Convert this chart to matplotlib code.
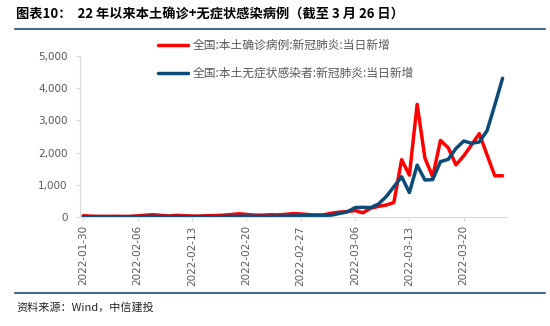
import matplotlib
matplotlib.use("Agg")
import matplotlib.pyplot as plt
import matplotlib.dates as mdates
from matplotlib.ticker import FuncFormatter, FixedLocator
import pandas as pd

plt.rcParams['font.family'] = ['Noto Sans CJK SC', 'DejaVu Sans']

dates = pd.date_range('2022-01-30', '2022-03-25', freq='D')

# 全国本土确诊病例, 当日新增
confirmed = [40, 25,
             20, 20, 22, 18, 20, 35, 55, 70, 50, 30, 50, 40, 30, 30,
             40, 45, 55, 75, 100, 80, 60, 55, 70, 65, 80, 105, 95, 75,
             60, 70, 120, 150, 170, 200, 130, 270, 330, 370, 450, 1780, 1300,
             3500, 1830, 1250, 2380, 2150, 1620, 1900, 2240, 2590, 1930, 1280, 1280]

# 全国本土无症状感染者, 当日新增
asymptomatic = [10, 8,
                5, 5, 8, 6, 10, 12, 15, 20, 15, 12, 15, 10, 8, 10,
                12, 10, 15, 20, 25, 30, 25, 20, 22, 25, 30, 35, 40, 45,
                50, 45, 60, 110, 160, 290, 300, 290, 400, 630, 940, 1250, 760,
                1610, 1150, 1160, 1720, 1790, 2130, 2360, 2290, 2330, 2680, 3480, 4310]

series_labels = ['全国:本土确诊病例:新冠肺炎:当日新增', '全国:本土无症状感染者:新冠肺炎:当日新增']
series_colors = ['#ff0000', '#0c4b78']

title = '图表10：  22 年以来本土确诊+无症状感染病例（截至 3 月 26 日）'
source = '资料来源：Wind，中信建投'

fig = plt.figure(figsize=(5.5, 3.26), dpi=100)
ax = fig.add_axes([0.1455, 0.3344, 0.7765, 0.4936])

for y_values, label, color in zip([confirmed, asymptomatic], series_labels, series_colors):
    ax.plot(dates, y_values, '-', color=color, linewidth=2.5, label=label,
            solid_joinstyle='round', solid_capstyle='round')

ax.set_ylim(0, 5000)
ax.set_xlim(dates[0] - pd.Timedelta(hours=10), dates[-1] + pd.Timedelta(hours=14))
ax.yaxis.set_major_locator(FixedLocator([0, 1000, 2000, 3000, 4000, 5000]))
ax.yaxis.set_major_formatter(FuncFormatter(lambda v, p: f'{int(v):,}'))

tick_dates = pd.date_range('2022-01-30', '2022-03-25', freq='7D')
ax.set_xticks(tick_dates)
ax.xaxis.set_major_formatter(mdates.DateFormatter('%Y-%m-%d'))

for lbl in ax.get_xticklabels():
    lbl.set_rotation(90)
    lbl.set_family('DejaVu Sans')
for lbl in ax.get_yticklabels():
    lbl.set_family('DejaVu Sans')

ax.tick_params(axis='both', labelsize=7.5, labelcolor='#595959', color='#d9d9d9', length=3, width=0.8)
ax.tick_params(axis='y', pad=6)
ax.tick_params(axis='x', pad=3)

ax.spines['top'].set_visible(False)
ax.spines['right'].set_visible(False)
ax.spines['left'].set_color('#d9d9d9')
ax.spines['bottom'].set_color('#d9d9d9')

leg = ax.legend(loc='upper left', bbox_to_anchor=(0.287, 0.881), bbox_transform=fig.transFigure,
                frameon=False, fontsize=8.5, handlelength=2.55, handletextpad=0.4,
                labelspacing=1.3, borderpad=0, borderaxespad=0)
for t in leg.get_texts():
    t.set_color('#595959')

fig.text(0.03, 0.955, title, fontsize=9.5, fontweight='bold', color='black', va='center', ha='left')
fig.add_artist(plt.Line2D([0.027, 0.99], [0.911, 0.911], transform=fig.transFigure, color='#1f4e79', linewidth=1.2))
fig.add_artist(plt.Line2D([0.027, 0.99], [0.101, 0.101], transform=fig.transFigure, color='#1f4e79', linewidth=1.2))
fig.text(0.03, 0.058, source, fontsize=8, style='italic', color='#262626', va='center', ha='left')

fig.savefig('out.png', dpi=100)
